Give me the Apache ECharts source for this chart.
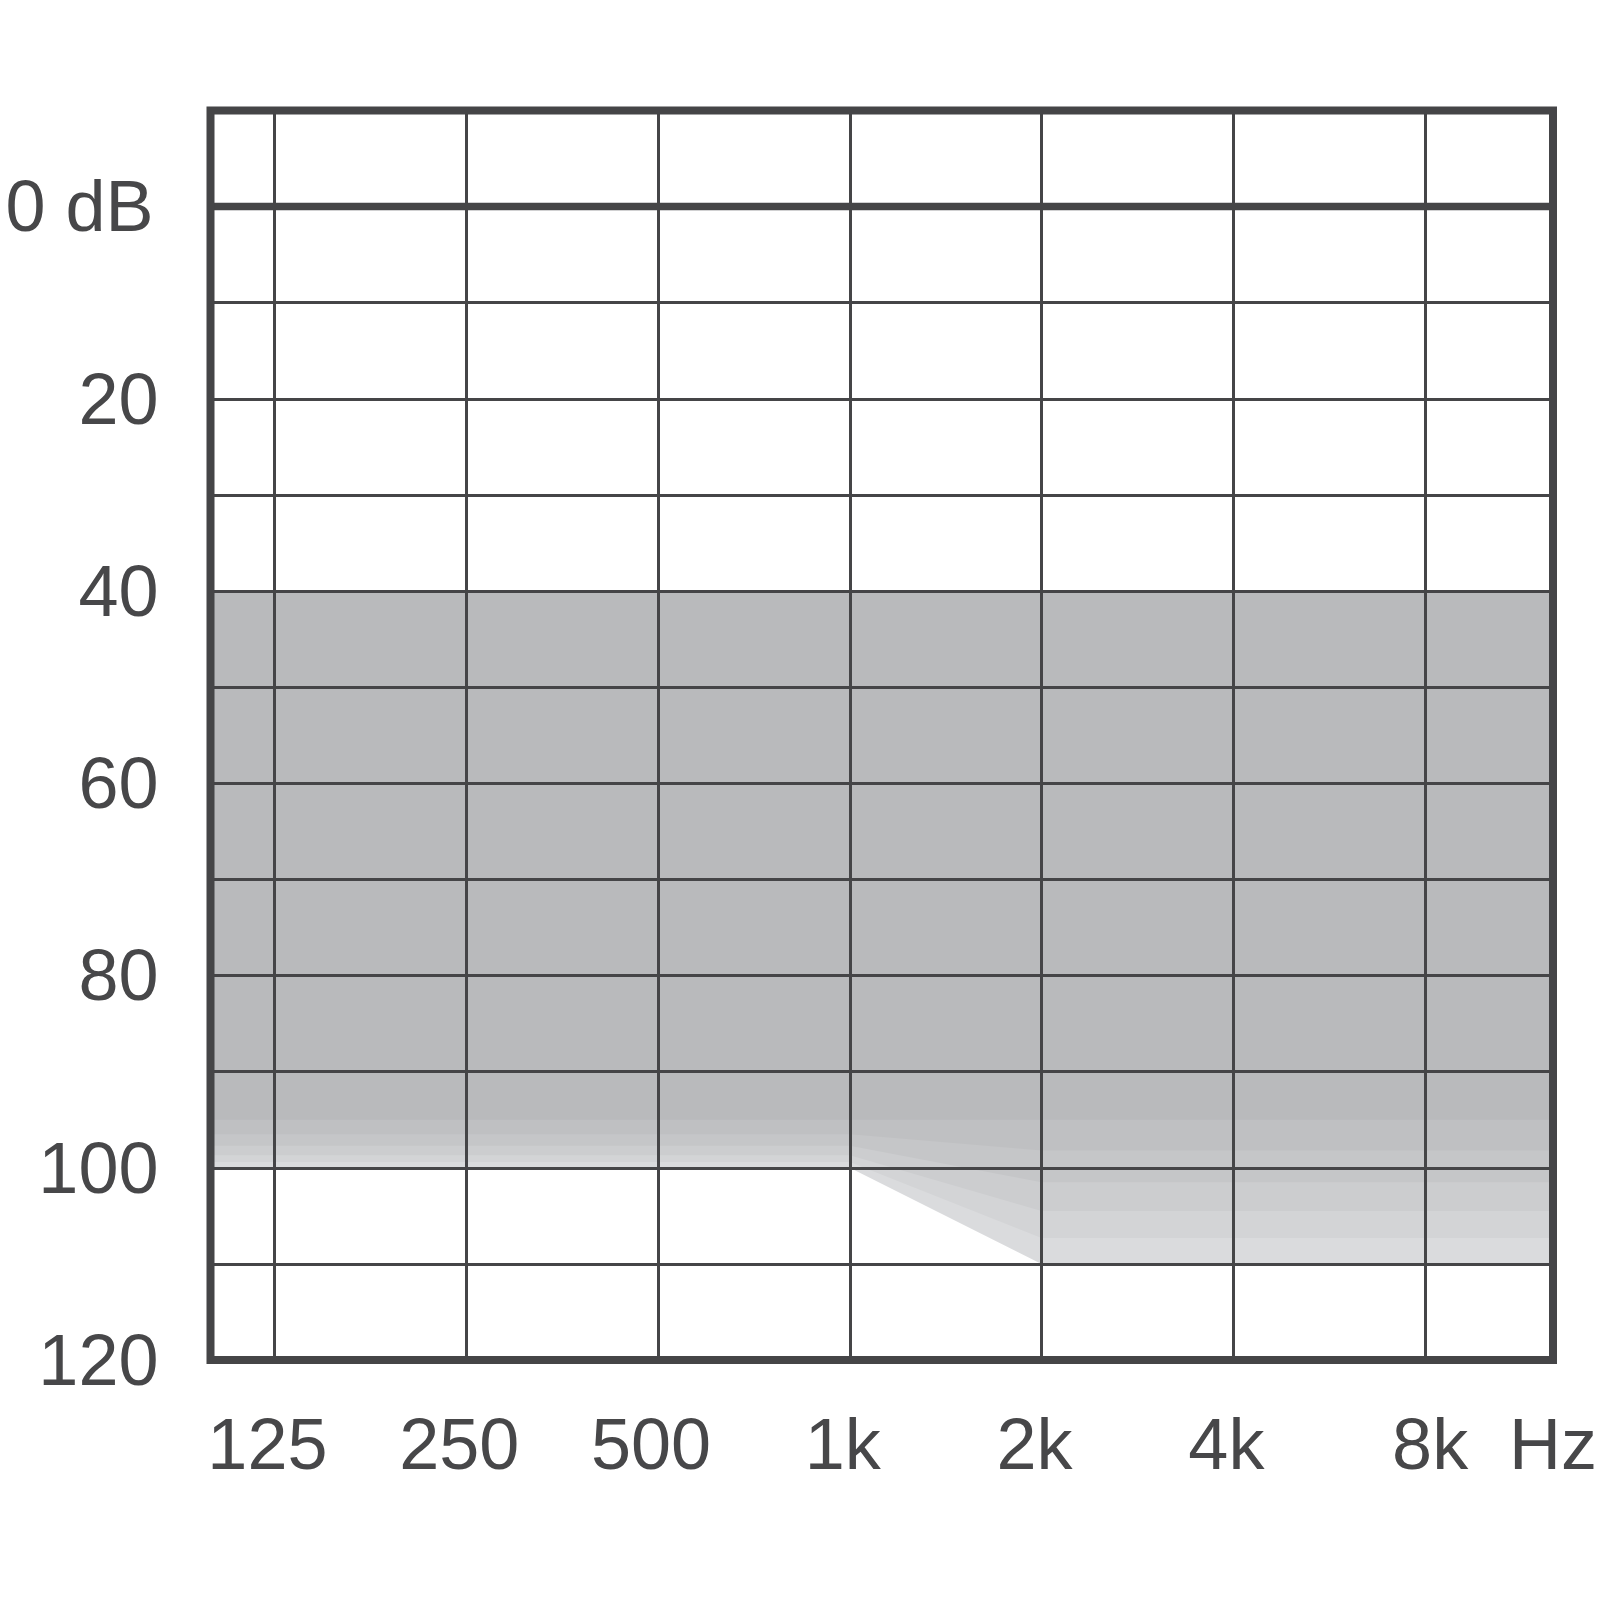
<!DOCTYPE html>
<html><head><meta charset="utf-8">
<script src="https://cdn.jsdelivr.net/npm/echarts@6/dist/echarts.min.js"></script>
<style>html,body{margin:0;padding:0;background:#fff}#c{width:1600px;height:1600px}</style>
</head><body><div id="c"></div>
<script>
// x positions in octaves above 125 Hz
const xTickValues = [0, 1, 2, 3, 4, 5, 6, 20 / 3];
const xTickLabels = ['125', '250', '500', '1k', '2k', '4k', '8k', 'Hz'];
const xGridValues = [0, 1, 2, 3, 4, 5, 6];
const yTickLabels = {0: '0 dB', 20: '20', 40: '40', 60: '60', 80: '80', 100: '100', 120: '120'};
// shaded region: x keys (left edge, 1k, 2k, right edge)
const shadeX = [-1 / 3, 3, 4, 20 / 3];
const shadeTop = [40, 40, 40, 40];
// lower boundaries of the fading bands, lightest first
const bandBottoms = [
  [100, 100, 110, 110],
  [99.4, 99.4, 107.3, 107.3],
  [98.7, 98.7, 104.5, 104.5],
  [97.7, 97.7, 101.5, 101.5],
  [96.5, 96.5, 98.2, 98.2],
  [95, 95, 95, 95]
];
const bandColors = ['#dadbdd', '#d3d4d6', '#cccdcf', '#c5c6c8', '#bfc0c2', '#b9babc'];
const zeroLine = [[-1 / 3, 0], [20 / 3, 0]];

const LINE = '#454547';
const TXT = '#474749';
const FONT = 'Liberation Sans';
const base = {fontFamily: FONT, fontSize: 72, color: TXT};

const chart = echarts.init(document.getElementById('c'));
chart.setOption({
  animation: false,
  backgroundColor: '#fff',
  grid: {left: 210.5, right: 40.5, top: 110.5, bottom: 240, show: true,
         borderWidth: 8, borderColor: LINE, backgroundColor: 'transparent', z: 20},
  xAxis: {
    type: 'value', min: -1 / 3, max: 20 / 3, z: 10,
    axisLine: {show: false},
    axisTick: {show: false, customValues: xGridValues},
    splitLine: {show: true, lineStyle: {color: LINE, width: 3}},
    axisLabel: {
      customValues: xTickValues, margin: 53, ...base,
      formatter: function (v, i) {
        const idx = xTickValues.findIndex(t => Math.abs(t - v) < 1e-6);
        const s = idx === 6 ? 'r' : (idx === 7 ? 'n' : 'l');
        return '{' + s + '|' + xTickLabels[idx] + '}';
      },
      rich: {
        l: {...base, padding: [0, 14, 0, 0]},
        r: {...base, padding: [0, 0, 0, 10]},
        n: {...base}
      }
    }
  },
  yAxis: {
    type: 'value', inverse: true, min: -10, max: 120, interval: 10, z: 10,
    axisLine: {show: false}, axisTick: {show: false},
    splitLine: {show: true, lineStyle: {color: LINE, width: 3}},
    axisLabel: {
      margin: 52, ...base, padding: [10, 0, 0, 0],
      formatter: function (v) {
        const t = yTickLabels[v];
        if (t === undefined) return '';
        return v === 0 ? '{u|' + t + '}' : t;
      },
      rich: {u: {...base, padding: [0, 5, 0, 0]}}
    }
  },
  series: [
    {
      type: 'custom', coordinateSystem: 'cartesian2d', silent: true, z: 1,
      data: bandColors.map((c, i) => [i, 40]),
      renderItem: function (params, api) {
        const k = params.dataIndex;
        const pts = [];
        for (let i = 0; i < shadeX.length; i++) pts.push(api.coord([shadeX[i], shadeTop[i]]));
        for (let i = shadeX.length - 1; i >= 0; i--) pts.push(api.coord([shadeX[i], bandBottoms[k][i]]));
        return {type: 'polygon', shape: {points: pts}, style: {fill: bandColors[k]}};
      }
    },
    {
      type: 'line', data: zeroLine, symbol: 'none', silent: true, z: 2,
      lineStyle: {color: LINE, width: 7.5}
    }
  ]
});
</script></body></html>
